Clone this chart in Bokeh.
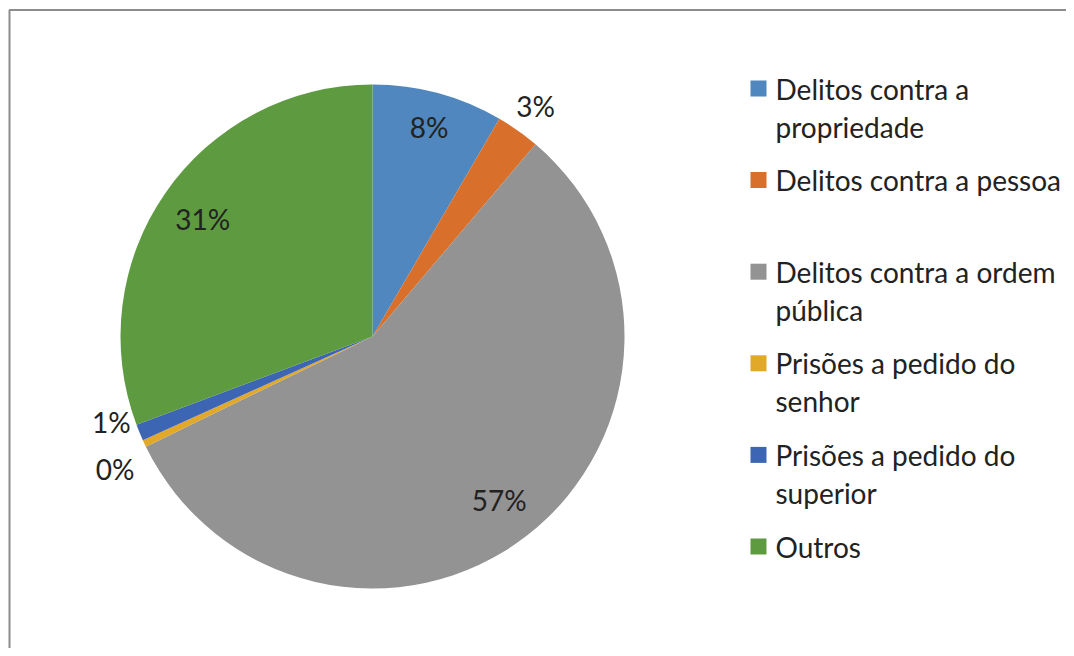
import math
import textwrap
from bokeh.plotting import figure
from bokeh.models import Range1d, ColumnDataSource
from bokeh.core.properties import value
from bokeh.embed import file_html
from bokeh.resources import INLINE

# ---- data ----
categories = [
    "Delitos contra a propriedade",
    "Delitos contra a pessoa",
    "Delitos contra a ordem pública",
    "Prisões a pedido do senhor",
    "Prisões a pedido do superior",
    "Outros",
]
shares = [8.4, 2.8, 56.6, 0.45, 1.05, 30.7]
colors = ["#4F87BE", "#D86F2A", "#939393", "#E1A82A", "#3C66B3", "#5E9B40"]

# ---- layout (pixels; 1 data unit = 1 px) ----
W, H = 1066, 648
cx, cy, R = 372, 312, 252
label_r = [0.86, 1.12, 0.82, 1.15, 1.09, 0.82]
label_shift_deg = [0, 0, 0, -2.2, 4.3, 0]
FONT = "Lato"
FS = "28px"
TXT = "#222222"

p = figure(width=W, height=H, output_backend="svg", toolbar_location=None,
           x_range=Range1d(0, W), y_range=Range1d(0, H),
           x_axis_type=None, y_axis_type=None, min_border=0)
p.grid.visible = False
p.outline_line_color = None
p.background_fill_color = "white"
p.border_fill_color = "white"

total = sum(shares)
starts, ends, lx, ly, ltxt = [], [], [], [], []
cum = 0.0
for i, v in enumerate(shares):
    a0 = math.pi / 2 - 2 * math.pi * cum / total
    cum += v
    a1 = math.pi / 2 - 2 * math.pi * cum / total
    starts.append(a0)
    ends.append(a1)
    mid = (a0 + a1) / 2 - math.radians(label_shift_deg[i])
    lx.append(cx + label_r[i] * R * math.cos(mid))
    ly.append(cy + label_r[i] * R * math.sin(mid))
    ltxt.append(f"{round(v)}%")

src = ColumnDataSource(dict(start=starts, end=ends, color=colors))
p.wedge(x=cx, y=cy, radius=R, start_angle="start", end_angle="end",
        direction="clock", fill_color="color", line_color=None, source=src)

p.text(x=lx, y=ly, text=ltxt, text_align="center", text_baseline="middle",
       text_font=value(FONT), text_font_size=FS, text_color=TXT)

# legend
leg_x0 = 758      # square center x
leg_y0 = 560      # first-line center y (data)
step = 91.6
line_h = 38
sq_x, sq_y, sq_c = [], [], []
t_x, t_y, t_t = [], [], []
for i, name in enumerate(categories):
    yc = leg_y0 - i * step
    sq_x.append(leg_x0)
    sq_y.append(yc)
    sq_c.append(colors[i])
    for j, line in enumerate(textwrap.wrap(name, 23)):
        t_x.append(leg_x0 + 17)
        t_y.append(yc - j * line_h)
        t_t.append(line)
p.rect(x=sq_x, y=sq_y, width=16, height=16, fill_color=sq_c, line_color=None)
p.text(x=t_x, y=t_y, text=t_t, text_align="left", text_baseline="middle",
       text_font=value(FONT), text_font_size=FS, text_color=TXT)

# chart frame (top and left edges visible)
p.line(x=[9, 9, W], y=[0, H - 9.5, H - 9.5], line_color="#8C8C8C", line_width=2)

open("out.html", "w").write(file_html(p, INLINE))
